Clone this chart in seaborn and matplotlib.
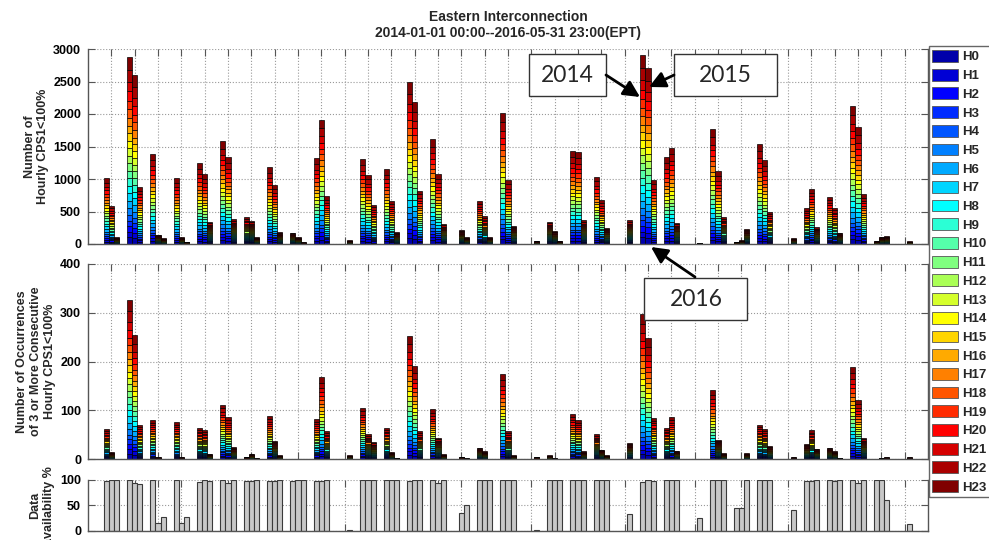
import numpy as np
import pandas as pd
import matplotlib
matplotlib.use("Agg")
import matplotlib.pyplot as plt
import seaborn as sns
from matplotlib.patches import Patch, Rectangle

# ---------------- data ----------------
groups = list(range(1, 36))
years = ["2014", "2015", "2016"]
hour_labels = [f"H{h}" for h in range(24)]
# approximate share of each hour inside a stacked bar (percent)
hour_share = [3.5, 3.0, 3.0, 3.0, 3.0, 3.5, 4.0, 4.0, 4.0, 4.0, 4.0, 4.0,
              4.0, 4.0, 4.0, 4.0, 4.0, 4.5, 4.5, 4.5, 5.0, 5.0, 6.5, 7.0]

cps1_2014 = [1010, 2882, 1390, 1010, 1241, 1579, 410, 1179, 174, 1323, 0, 1302,
             1149, 2487, 1610, 0, 662, 2010, 0, 343, 1435, 1035, 0, 2908,
             1333, 0, 1769, 36, 1538, 0, 548, 728, 2128, 46, 0]
cps1_2015 = [590, 2600, 144, 103, 1082, 1333, 359, 903, 103, 1913, 0, 1067,
             662, 2190, 1082, 210, 426, 985, 0, 205, 1420, 672, 0, 2703,
             1482, 0, 1123, 56, 1292, 0, 851, 559, 1795, 108, 0]
cps1_2016 = [103, 882, 87, 36, 344, 379, 103, 179, 26, 733, 56, 605,
             180, 820, 308, 103, 103, 282, 50, 46, 364, 251, 364, 985,
             328, 20, 415, 226, 492, 87, 256, 174, 769, 118, 41]

consec_2014 = [62, 326, 81, 76, 65, 112, 5, 88, 0, 83, 0, 106,
               65, 253, 102, 0, 24, 174, 0, 8, 93, 51, 0, 298,
               65, 0, 142, 0, 71, 0, 31, 24, 190, 0, 0]
consec_2015 = [14, 255, 4, 4, 60, 87, 11, 38, 0, 169, 0, 51,
               14, 191, 44, 5, 16, 57, 0, 2, 81, 20, 0, 248,
               87, 0, 40, 0, 62, 0, 59, 16, 122, 3, 0]
consec_2016 = [0, 71, 1, 0, 11, 25, 2, 8, 0, 58, 8, 35,
               3, 57, 10, 2, 0, 8, 5, 1, 16, 8, 34, 85,
               18, 0, 12, 12, 28, 4, 22, 3, 44, 4, 4]

avail_2014 = [98, 100, 100, 100, 96, 100, 98, 98, 98, 98, 0, 100,
              100, 98, 100, 0, 100, 100, 0, 100, 100, 100, 0, 96,
              100, 0, 100, 45, 100, 0, 98, 100, 100, 100, 0]
avail_2015 = [100, 94, 15, 15, 100, 94, 99, 98, 100, 99, 0, 100,
              100, 100, 94, 35, 100, 100, 0, 100, 100, 100, 0, 100,
              100, 0, 100, 44, 100, 0, 98, 98, 94, 100, 0]
avail_2016 = [100, 92, 28, 28, 98, 100, 100, 100, 100, 100, 2, 100,
              100, 100, 100, 50, 100, 100, 2, 100, 100, 100, 32, 98,
              100, 26, 100, 100, 100, 40, 100, 100, 100, 60, 14]

title_1 = "Eastern Interconnection"
title_2 = "2014-01-01 00:00--2016-05-31 23:00(EPT)"


# ---------------- colours (MATLAB jet(24)) ----------------
def matlab_jet(m):
    n = int(np.ceil(m / 4))
    u = np.concatenate([np.arange(1, n + 1) / n, np.ones(n - 1), np.arange(n, 0, -1) / n])
    g = int(np.ceil(n / 2)) - (1 if m % 4 == 1 else 0) + np.arange(1, len(u) + 1)
    r = g + n
    b = g - n
    J = np.zeros((m, 3))
    ok = r <= m
    J[r[ok] - 1, 0] = u[ok]
    ok = g <= m
    J[g[ok] - 1, 1] = u[ok]
    ok = b >= 1
    J[b[ok] - 1, 2] = u[ok]
    return [tuple(c) for c in J]


hour_colors = matlab_jet(24)
palette = dict(zip(hour_labels, hour_colors))

# ---------------- style ----------------
sns.set_style("white")
plt.rcParams["font.family"] = ["Liberation Sans", "DejaVu Sans"]
plt.rcParams["font.weight"] = "bold"
plt.rcParams["axes.labelweight"] = "bold"

W, H = 989, 540
fig = plt.figure(figsize=(W / 100, H / 100), dpi=100)


def px(x, y):
    return (x / W, 1 - y / H)


def axes_px(left, top, right, bottom):
    return fig.add_axes([left / W, 1 - bottom / H, (right - left) / W, (bottom - top) / H])


ax1 = axes_px(88, 49, 928, 244)
ax2 = axes_px(88, 264, 928, 459.3)
ax3 = axes_px(88, 480, 928, 530.7)

BW = 0.2233
offsets = {"2014": -BW, "2015": 0.0, "2016": BW}
share = np.array(hour_share) / np.sum(hour_share)
edges = sorted(set(np.round([g + k * BW for g in groups for k in (-1.5, -0.5, 0.5, 1.5)], 6)))


def stacked_frame(series):
    rows = []
    for yr, totals in zip(years, series):
        for g, tot in zip(groups, totals):
            for h, lab in enumerate(hour_labels):
                rows.append((g + offsets[yr], lab, tot * share[h]))
    return pd.DataFrame(rows, columns=["x", "hour", "value"])


def drop_empty(ax):
    for p in list(ax.patches):
        if isinstance(p, Rectangle) and abs(p.get_height()) < 1e-9:
            p.remove()


def style_axes(ax, ymax, yticks):
    ax.set_xlim(0, 36)
    ax.set_ylim(0, ymax)
    ax.set_xticks(groups)
    ax.set_xticklabels([])
    ax.set_yticks(yticks)
    ax.set_yticklabels([str(t) for t in yticks])
    ax.grid(True, ls=":", color="#999999", lw=0.8)
    ax.set_axisbelow(True)
    ax.tick_params(axis="x", which="both", top=True, bottom=True, direction="in",
                   length=5, color="#555555", labelbottom=False)
    ax.tick_params(axis="y", left=True, right=True, direction="in", length=5,
                   color="#555555", labelsize=9, pad=5, labelcolor="black")
    for s in ["left", "right", "bottom"]:
        ax.spines[s].set_color("#555555")
        ax.spines[s].set_linewidth(1.0)
    ax.spines["top"].set_visible(False)
    ax.set_xlabel("")


for ax, series in [(ax1, [cps1_2014, cps1_2015, cps1_2016]),
                   (ax2, [consec_2014, consec_2015, consec_2016])]:
    df = stacked_frame(series)
    sns.histplot(data=df, x="x", weights="value", hue="hour",
                 hue_order=hour_labels[::-1], palette=palette, multiple="stack",
                 bins=edges, element="bars", fill=True, alpha=1,
                 edgecolor="black", linewidth=0.5, legend=False, ax=ax)
    drop_empty(ax)

df_av = pd.DataFrame({
    "group": np.tile(groups, 3),
    "year": np.repeat(years, len(groups)),
    "avail": avail_2014 + avail_2015 + avail_2016,
})
sns.barplot(data=df_av, x="group", y="avail", hue="year", hue_order=years,
            native_scale=True, width=3 * BW, dodge=True,
            palette=["#c8c8c8"] * 3, saturation=1, edgecolor="#3a3a3a",
            linewidth=0.8, errorbar=None, legend=False, ax=ax3)
drop_empty(ax3)

style_axes(ax1, 3000, [0, 500, 1000, 1500, 2000, 2500, 3000])
style_axes(ax2, 400, [0, 100, 200, 300, 400])
style_axes(ax3, 100, [0, 50, 100])

ax1.set_ylabel("Number of\nHourly CPS1<100%", fontsize=9)
ax2.set_ylabel("Number of Occurrences\nof 3 or More Consecutive\nHourly CPS1<100%", fontsize=9)
ax3.set_ylabel("Data\navailability %", fontsize=9)
ax1.yaxis.set_label_coords(-0.046, 0.5)
ax2.yaxis.set_label_coords(-0.038, 0.5)
ax3.yaxis.set_label_coords(-0.039, 0.5)

# ---------------- title ----------------
fig.text(*px(508, 17), title_1, ha="center", va="center", fontsize=10, weight="bold")
fig.text(*px(508, 33), title_2, ha="center", va="center", fontsize=10, weight="bold")

# ---------------- legend ----------------
handles = [Patch(facecolor=c, edgecolor="#555555", linewidth=0.6) for c in hour_colors]
fig.legend(handles, hour_labels, loc="upper left", bbox_to_anchor=px(932, 50),
           frameon=False, prop={"size": 9.5, "weight": "bold"},
           handlelength=2.0, handleheight=1.0, labelspacing=0.40,
           handletextpad=0.28, borderpad=0, borderaxespad=0)
fig.add_artist(Rectangle(px(929, 497), 0.2, (497 - 46) / H, transform=fig.transFigure,
                         fill=False, edgecolor="#666666", lw=1.0))

# ---------------- annotations ----------------
def note_box(x0, y0, x1, y1, label, cx, cy):
    fig.add_artist(Rectangle(px(x0, y1), (x1 - x0) / W, (y1 - y0) / H,
                             transform=fig.transFigure, facecolor="white",
                             edgecolor="#333333", lw=1.0, zorder=5))
    fig.text(*px(cx, cy), label, ha="center", va="center", fontsize=16.5,
             family=["Lato", "DejaVu Sans"], weight="normal", zorder=6)


def arrow(xs, ys, xe, ye):
    fig.add_artist(matplotlib.patches.FancyArrowPatch(
        px(xs, ys), px(xe, ye), transform=fig.transFigure,
        arrowstyle="-|>,head_length=0.7,head_width=0.35", mutation_scale=14,
        color="black", lw=2.0, shrinkA=0, shrinkB=0, zorder=7))


note_box(529, 54, 606, 96, "2014", 567.5, 75)
note_box(674, 54, 777, 96, "2015", 725, 75)
note_box(644, 278, 747, 320, "2016", 696, 299)
arrow(606, 75, 640, 97)
arrow(674, 75, 649, 87)
arrow(695, 277, 651, 247)

fig.savefig("out.png", dpi=100)
